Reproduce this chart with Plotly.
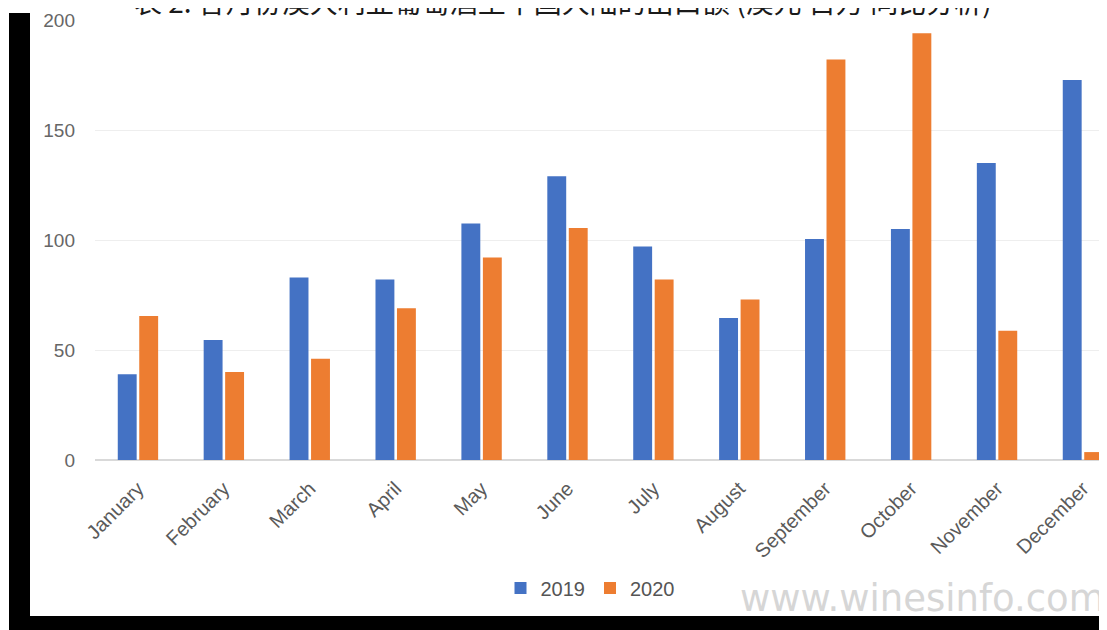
import plotly.graph_objects as go

months = ["January", "February", "March", "April", "May", "June", "July",
          "August", "September", "October", "November", "December"]
values_2019 = [39, 54.5, 83, 82, 107.5, 129, 97, 64.5, 100.5, 105, 135, 172.7]
values_2020 = [65.5, 40, 46, 69, 92, 105.5, 82, 73, 182, 194, 58.8, 3.6]
y_ticks = [0, 50, 100, 150, 200]
title_text = "表 2: 各月份澳大利亚葡萄酒至中国大陆的出口额 (澳元 百万 同比分析)"

OFF = 8  # default page body margin
W, H = 1107 - OFF, 630 - OFF
L, R, T, B = 95 - OFF, 0, 20 - OFF, 630 - 460
pw, ph = W - L - R, H - T - B


def px_x(px):
    # screen pixel -> paper x
    return (px - OFF - L) / pw


def px_y(py):
    # screen pixel -> paper y
    return (H - B - (py - OFF)) / ph


fig = go.Figure()
fig.add_trace(go.Bar(x=months, y=values_2019, name="2019", marker_color="#4472C4",
                     marker_line_width=0))
fig.add_trace(go.Bar(x=months, y=values_2020, name="2020", marker_color="#ED7D31",
                     marker_line_width=0))

shapes = [
    dict(type="rect", xref="paper", yref="paper", x0=px_x(9), x1=px_x(30),
         y0=px_y(13), y1=px_y(640), fillcolor="black", line_width=0, layer="above"),
    dict(type="rect", xref="paper", yref="paper", x0=px_x(9), x1=px_x(1120),
         y0=px_y(616), y1=px_y(640), fillcolor="black", line_width=0, layer="above"),
]

annotations = [
    dict(text=title_text, xref="paper", yref="paper", x=px_x(563), y=px_y(23),
         xanchor="center", yanchor="bottom", showarrow=False,
         font=dict(family="Noto Sans CJK SC", size=28, color="#1a1a1a")),
    dict(text="www.winesinfo.com", xref="paper", yref="paper", x=px_x(922), y=px_y(622),
         xanchor="center", yanchor="bottom", showarrow=False,
         font=dict(family="DejaVu Sans", size=37, color="#d6d6d6")),
]

fig.update_layout(
    width=W, height=H,
    margin=dict(l=L, r=R, t=T, b=B),
    paper_bgcolor="white", plot_bgcolor="white",
    barmode="group", bargap=0.5, bargroupgap=0.12,
    font=dict(family="Liberation Sans, Arial", color="#595959"),
    showlegend=True,
    legend=dict(orientation="h", x=px_x(590), xanchor="center", y=px_y(588),
                yanchor="middle", font=dict(size=20, color="#555555"),
                itemwidth=30, traceorder="normal"),
    shapes=shapes,
    annotations=annotations,
    xaxis=dict(range=[-0.5, 11.28], tickangle=-45, tickfont=dict(size=20, color="#5a5a5a"),
               showgrid=False, showline=False, ticks="", ticklabelstandoff=12),
    yaxis=dict(range=[0, 200], tickvals=y_ticks, tickfont=dict(size=19, color="#666666"),
               showgrid=True, gridcolor="#eeeeee", gridwidth=1,
               zeroline=True, zerolinecolor="#d9d9d9", zerolinewidth=1.5,
               showline=False, ticks="", ticklabelstandoff=19),
)

fig.write_html("out.html")
